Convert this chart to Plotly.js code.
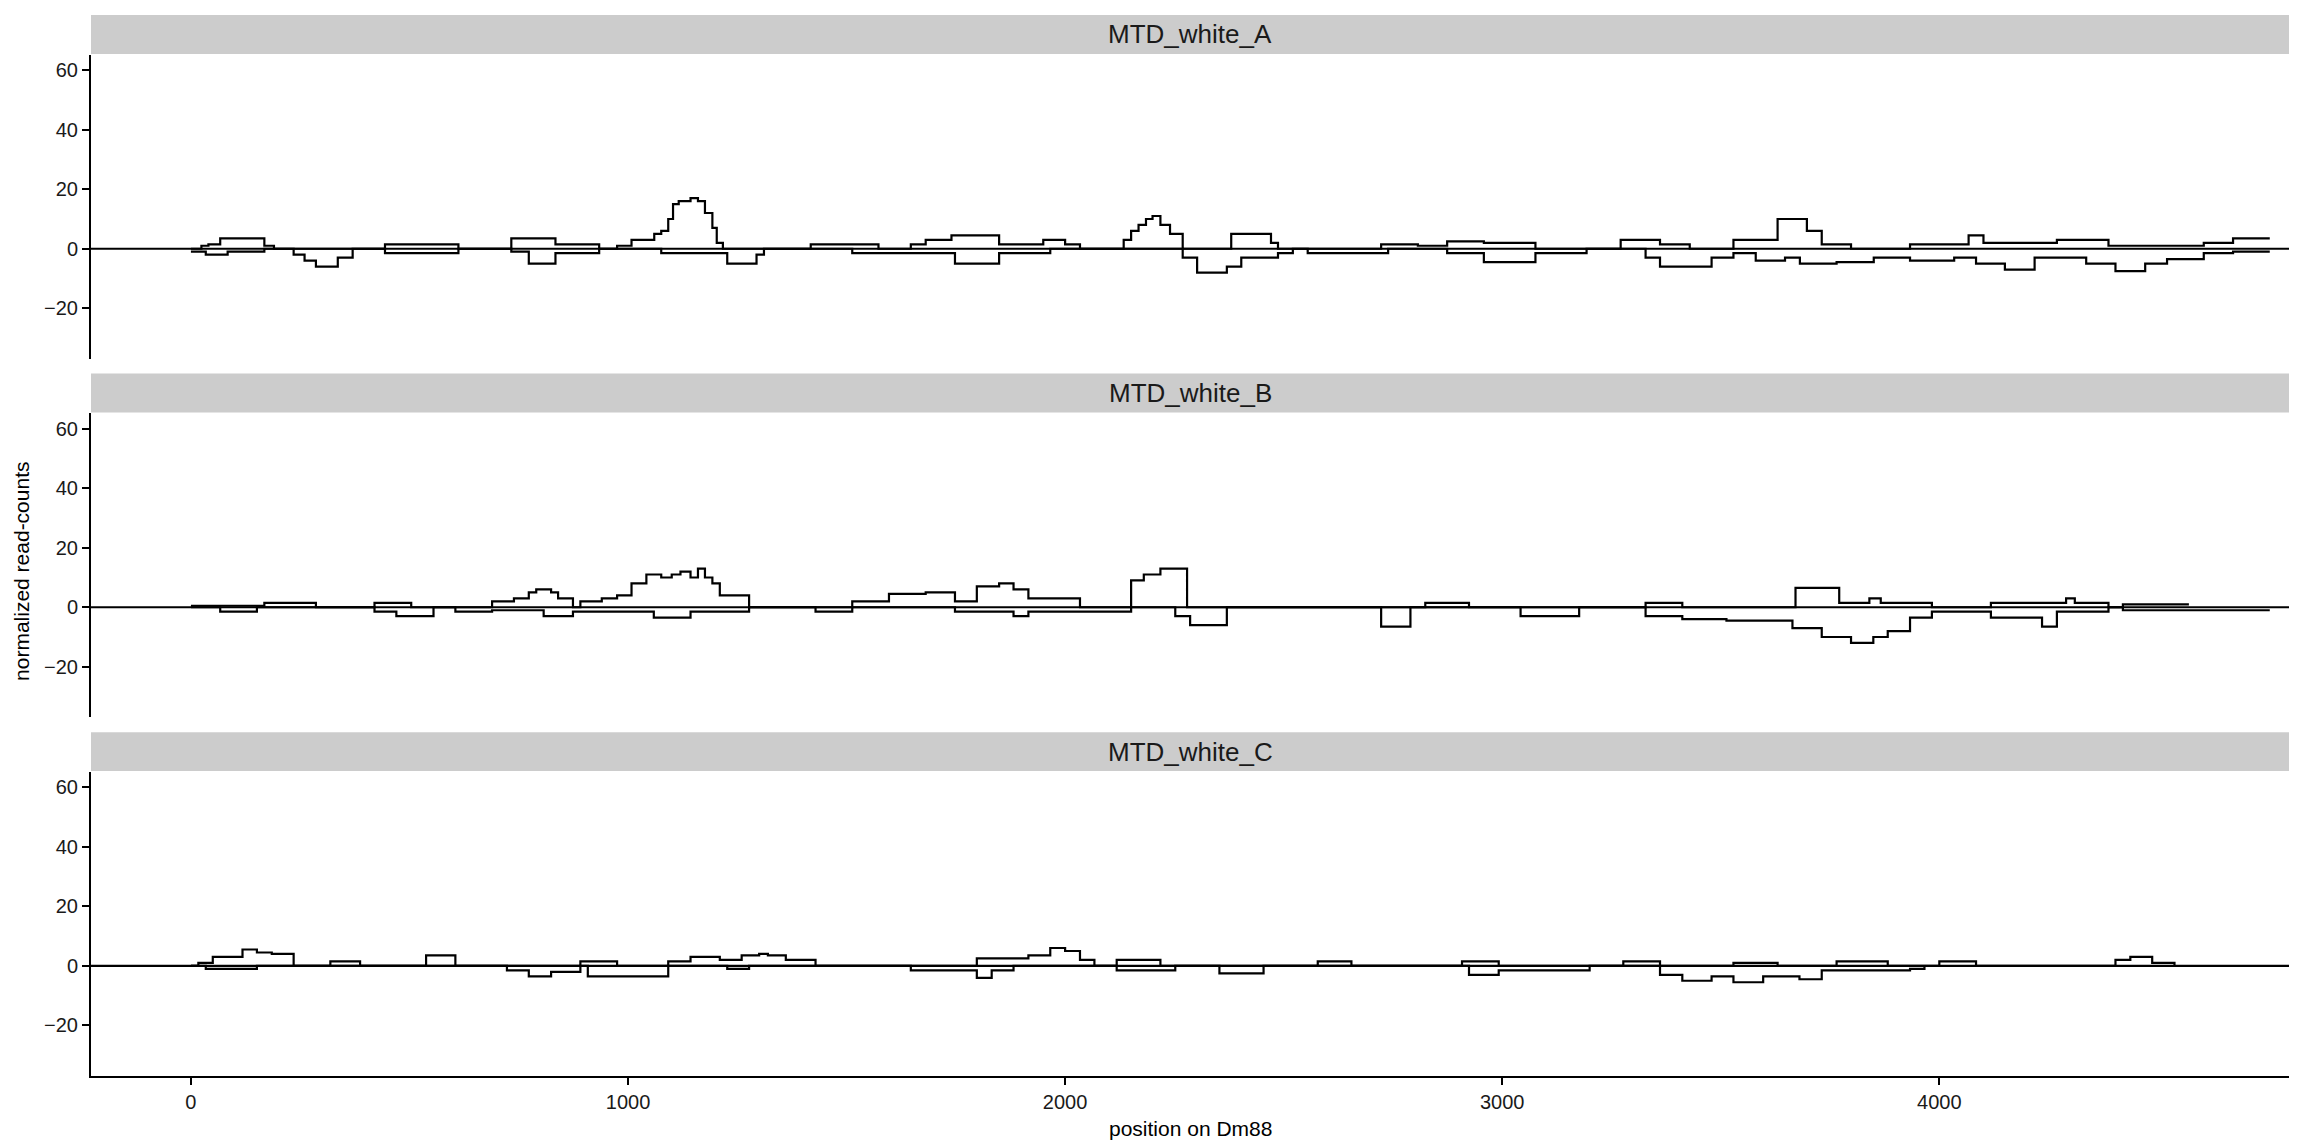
<!DOCTYPE html>
<html><head><meta charset="utf-8">
<script src="https://cdn.plot.ly/plotly-3.0.1.min.js"></script>
<style>html,body{margin:0;padding:0;background:#fff}</style>
</head><body><div id="chart" style="width:2304px;height:1142px"></div>
<script>
const panels = ['MTD_white_A','MTD_white_B','MTD_white_C'];
const xTicks = [0,1000,2000,3000,4000];
const yTicks = [-20,0,20,40,60];
// [position, value] step breakpoints
const A_plus = [[0,0],[24,1],[40,1.5],[67,3.5],[168,1],[190,0],[444,1.5],[612,0],[733,3.5],[834,1.5],[934,0],[975,1],[1008,3],[1060,5],[1076,6],[1092,10],[1103,15],[1116,16],[1143,17],[1160,16],[1176,12],[1193,7],[1203,2],[1217,0],[1418,1.5],[1573,0],[1647,1.5],[1681,3],[1740,4.5],[1849,1.5],[1950,3],[2000,1.5],[2034,0],[2134,3],[2151,6],[2168,8],[2185,10],[2200,11],[2218,8],[2240,5],[2269,0],[2380,5],[2471,2],[2487,0],[2723,1.5],[2807,1],[2874,2.5],[2958,2],[3076,0],[3271,3],[3361,1.5],[3429,0],[3529,3],[3630,10],[3697,6],[3731,1.5],[3798,0],[3933,1.5],[4067,4.5],[4101,2],[4269,3],[4387,1],[4605,2],[4672,3.5],[4756,3.5]];
const A_minus = [[0,-1],[34,-2],[84,-1],[168,0],[235,-2],[260,-4],[286,-6],[336,-3],[370,0],[444,-1.5],[612,0],[733,-1],[773,-5],[834,-1.5],[934,0],[1076,-1.5],[1227,-5],[1294,-2],[1311,0],[1513,-1.5],[1748,-5],[1849,-1.5],[1966,0],[2269,-3],[2302,-8],[2370,-6],[2403,-3],[2487,-1.5],[2521,0],[2555,-1.5],[2739,0],[2874,-1.5],[2958,-4.5],[3076,-1.5],[3193,0],[3328,-3],[3361,-6],[3479,-3],[3529,-1.5],[3580,-4],[3647,-3],[3681,-5],[3765,-4.5],[3850,-3],[3933,-4],[4034,-3],[4084,-5],[4150,-7],[4218,-3],[4336,-5],[4403,-7.5],[4471,-5],[4521,-3.5],[4605,-1.5],[4672,-1],[4756,-1]];
const B_plus = [[0,0.5],[168,1.5],[286,0],[420,1.5],[504,0],[689,2],[739,3],[773,5],[790,6],[824,5],[840,3],[874,0],[891,2],[940,3],[975,4],[1008,8],[1042,11],[1076,10],[1100,11],[1120,12],[1143,10],[1160,13],[1176,10],[1193,8],[1210,4],[1277,0],[1513,2],[1597,4.5],[1681,5],[1748,2],[1798,7],[1849,8],[1882,6],[1916,3],[2034,0],[2151,9],[2180,11],[2218,13],[2279,0],[2824,1.5],[2924,0],[3328,1.5],[3412,0],[3671,6.5],[3771,1.5],[3840,3],[3866,1.5],[3983,0],[4118,1.5],[4290,3],[4310,1.5],[4387,0],[4420,1],[4571,1]];
const B_minus = [[0,0],[67,-1.5],[151,0],[420,-1.5],[470,-3],[555,0],[605,-1.5],[689,-1],[807,-3],[874,-1.5],[1059,-3.5],[1143,-1.5],[1277,0],[1429,-1.5],[1513,0],[1748,-1.5],[1882,-3],[1916,-1.5],[2151,0],[2252,-3],[2286,-6],[2370,0],[2723,-6.5],[2790,0],[3042,-3],[3176,0],[3328,-3],[3412,-4],[3513,-4.5],[3664,-7],[3731,-10],[3798,-12],[3849,-10],[3882,-8],[3933,-3.5],[3983,-1.5],[4118,-3.5],[4235,-6.5],[4269,-1.5],[4387,0],[4420,-1],[4756,-1]];
const C_plus = [[0,0],[17,1],[50,3],[118,5.5],[151,4.5],[185,4],[235,0],[319,1.5],[387,0],[538,3.5],[605,0],[891,1.5],[975,0],[1092,1.5],[1143,3],[1210,2],[1260,3.5],[1300,4],[1320,3.5],[1361,2],[1429,0],[1798,2.5],[1916,3.5],[1966,6],[2000,5],[2034,2],[2067,0],[2118,2],[2218,0],[2578,1.5],[2655,0],[2908,1.5],[2992,0],[3277,1.5],[3361,0],[3529,1],[3630,0],[3765,1.5],[3882,0],[4000,1.5],[4084,0],[4403,2],[4437,3],[4487,1],[4538,0]];
const C_minus = [[0,0],[34,-1],[151,0],[723,-1.5],[773,-3.5],[824,-2],[891,0],[908,-3.5],[1092,0],[1227,-1],[1277,0],[1647,-1.5],[1798,-4],[1832,-1.5],[1882,0],[2118,-1.5],[2252,0],[2353,-2.5],[2454,0],[2924,-3],[2992,-1.5],[3200,0],[3361,-3],[3412,-5],[3479,-3.5],[3529,-5.5],[3597,-3.5],[3680,-4.5],[3731,-1.5],[3933,-1],[3966,0]];

const series = [[A_plus, A_minus],[B_plus, B_minus],[C_plus, C_minus]];
const plotDomains = [[0.6759,0.9626],[0.338,0.6247],[0,0.2867]];
const stripDomains = [[0.9633,1],[0.6254,0.662],[0.2874,0.3241]];
const xRange = [-228.6, 4800];
const yRange = [-37.0, 65.2];

const traces = [];
series.forEach((pair, i) => {
  const sfx = i === 0 ? '' : String(i+1);
  pair.forEach(s => {
    traces.push({
      x: s.map(p => p[0]), y: s.map(p => p[1]),
      xaxis: 'x'+sfx, yaxis: 'y'+sfx,
      type: 'scatter', mode: 'lines',
      line: {shape: 'hv', color: '#000', width: 2.2},
      hoverinfo: 'skip', showlegend: false
    });
  });
});

const font = {family: 'Liberation Sans, Arial, sans-serif', color: '#000'};
const layout = {
  width: 2304, height: 1142,
  margin: {l: 91, r: 15, t: 15, b: 66},
  paper_bgcolor: '#fff', plot_bgcolor: '#fff',
  showlegend: false,
  font: Object.assign({size: 19}, font),
  shapes: [], annotations: []
};
for (let i = 0; i < 3; i++) {
  const sfx = i === 0 ? '' : String(i+1);
  const isBottom = i === 2;
  layout['xaxis'+sfx] = {
    domain: [0,1], range: xRange, anchor: 'y'+sfx,
    showgrid: false, zeroline: false,
    showline: isBottom, linecolor: '#000', linewidth: 2,
    ticks: isBottom ? 'outside' : '', ticklen: 7, tickwidth: 2, tickcolor: '#000',
    tickvals: xTicks, showticklabels: isBottom,
    tickfont: {size: 20, color: '#1A1A1A', family: font.family}
  };
  layout['yaxis'+sfx] = {
    domain: plotDomains[i], range: yRange, anchor: 'x'+sfx,
    showgrid: false, zeroline: false,
    showline: true, linecolor: '#000', linewidth: 2,
    ticks: 'outside', ticklen: 7, tickwidth: 2, tickcolor: '#000',
    tickvals: yTicks,
    tickfont: {size: 20, color: '#1A1A1A', family: font.family}
  };
  layout.shapes.push({type: 'rect', xref: 'paper', yref: 'paper', x0: 0, x1: 1,
    y0: stripDomains[i][0], y1: stripDomains[i][1], fillcolor: '#CCCCCC', line: {width: 0}, layer: 'below'});
  layout.shapes.push({type: 'line', xref: 'x'+sfx+' domain', yref: 'y'+sfx, x0: 0, x1: 1, y0: 0, y1: 0,
    line: {color: '#000', width: 2.2}});
  layout.annotations.push({text: panels[i], xref: 'paper', yref: 'paper', x: 0.5,
    y: (stripDomains[i][0]+stripDomains[i][1])/2, xanchor: 'center', yanchor: 'middle',
    showarrow: false, font: {size: 26, color: '#1A1A1A', family: font.family}});
}
layout.annotations.push({text: 'position on Dm88', xref: 'paper', yref: 'paper', x: 0.5, y: 0,
  yanchor: 'middle', xanchor: 'center', yshift: -52, showarrow: false, font: {size: 21, color: '#000', family: font.family}});
layout.annotations.push({text: 'normalized read-counts', xref: 'paper', yref: 'paper', x: -0.0314, y: 0.476,
  xanchor: 'center', yanchor: 'middle', textangle: -90, showarrow: false, font: {size: 21, color: '#000', family: font.family}});

Plotly.newPlot('chart', traces, layout, {displayModeBar: false, staticPlot: true});
</script></body></html>
